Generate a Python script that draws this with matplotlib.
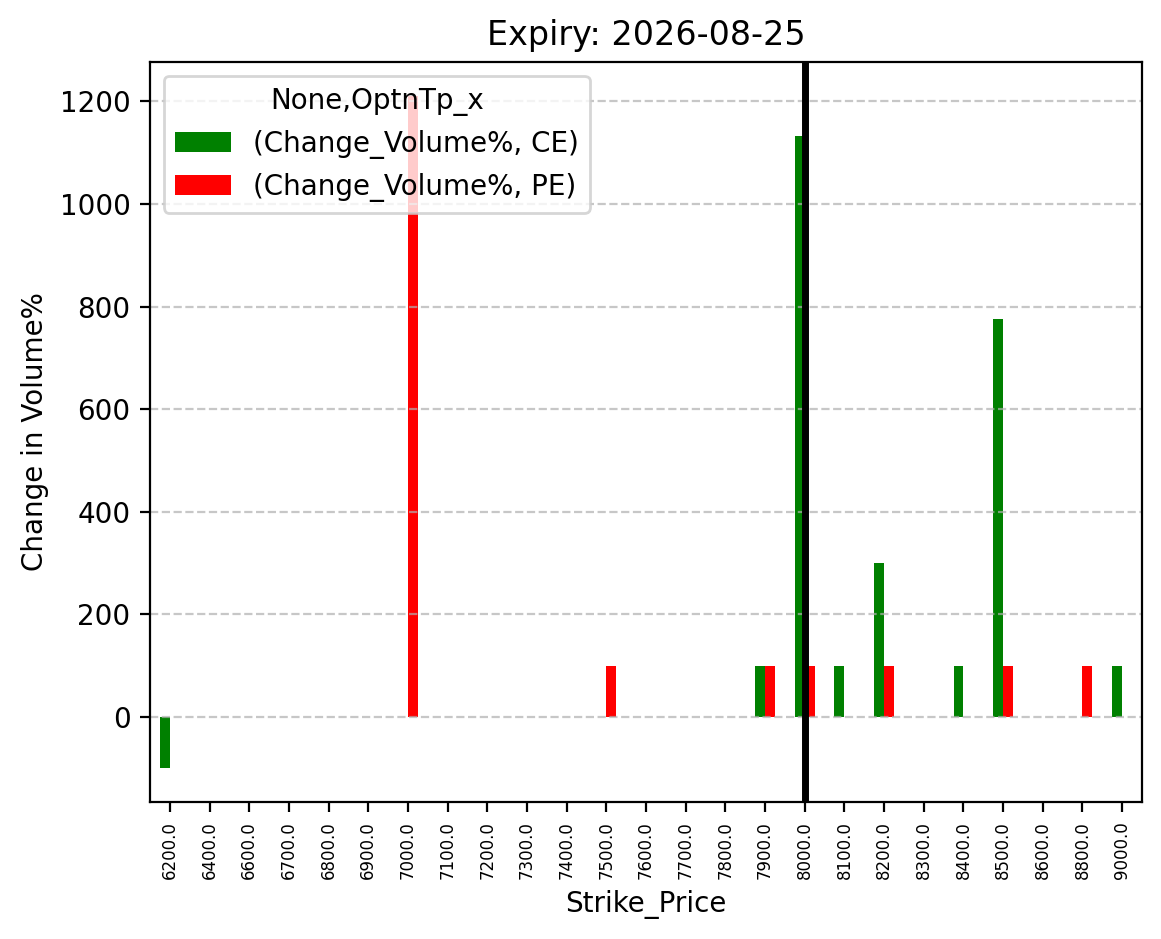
import matplotlib
matplotlib.use('Agg')
import matplotlib.pyplot as plt
import numpy as np

# strike prices and % change in volume for calls (CE) and puts (PE)
strikes = [6200.0, 6400.0, 6600.0, 6700.0, 6800.0, 6900.0, 7000.0, 7100.0,
           7200.0, 7300.0, 7400.0, 7500.0, 7600.0, 7700.0, 7800.0, 7900.0,
           8000.0, 8100.0, 8200.0, 8300.0, 8400.0, 8500.0, 8600.0, 8800.0,
           9000.0]
ce_change = [-100, 0, 0, 0, 0, 0, 0, 0,
             0, 0, 0, 0, 0, 0, 0, 100,
             1133, 100, 300, 0, 100, 775, 0, 0,
             100]
pe_change = [0, 0, 0, 0, 0, 0, 1210, 0,
             0, 0, 0, 100, 0, 0, 0, 100,
             100, 0, 100, 0, 0, 100, 0, 100,
             0]
spot_strike = 8000.0
expiry = '2026-08-25'

fig = plt.figure(figsize=(1161 / 200, 939 / 200), dpi=200)
ax = fig.add_axes([150 / 1161, 1 - 802 / 939, 992 / 1161, 740 / 939])

x = np.arange(len(strikes))
w = 0.25
ax.bar(x - w / 2, ce_change, width=w, color='green',
       label='(Change_Volume%, CE)')
ax.bar(x + w / 2, pe_change, width=w, color='red',
       label='(Change_Volume%, PE)')

ax.set_xticks(x)
ax.set_xticklabels([str(s) for s in strikes], rotation=90, fontsize=6)
ax.set_xlim(-0.5, len(strikes) - 0.5)
ax.set_ylim(-166, 1277)

# current level marker
ax.axvline(strikes.index(spot_strike), color='black', lw=2.5)

ax.grid(axis='y', linestyle='--', alpha=0.7)
ax.set_xlabel('Strike_Price')
ax.set_ylabel('Change in Volume%')
ax.set_title('Expiry: ' + expiry)
ax.legend(title='None,OptnTp_x', loc='upper left')

fig.savefig('out.png', dpi=200)
